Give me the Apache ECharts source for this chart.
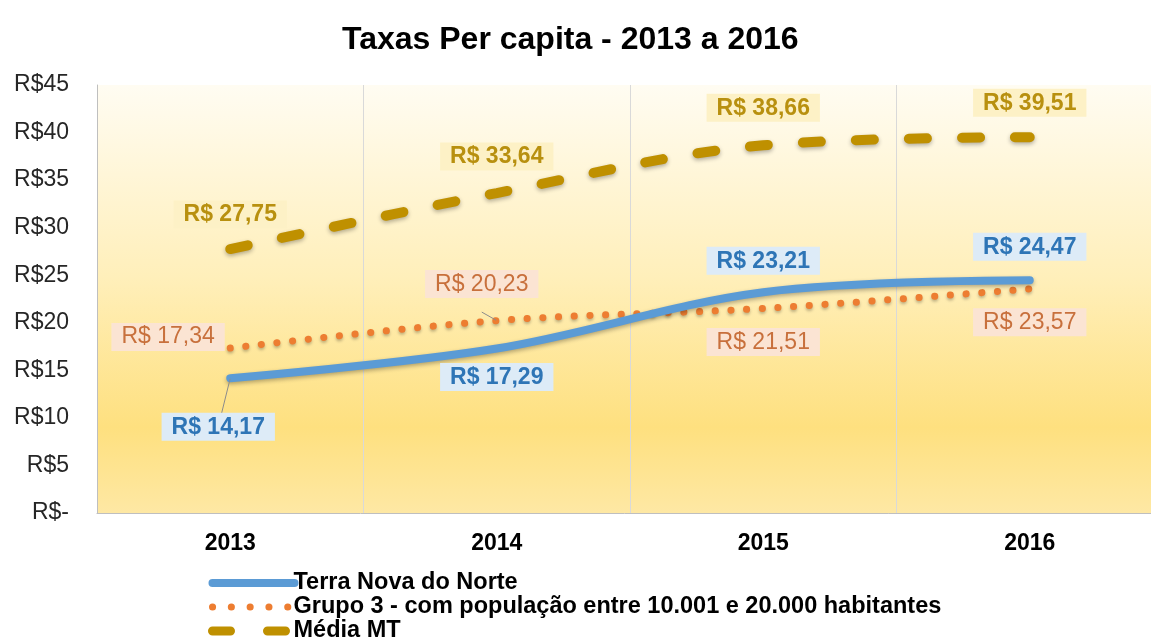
<!DOCTYPE html>
<html>
<head>
<meta charset="utf-8">
<script src="https://cdn.jsdelivr.net/npm/echarts@6/dist/echarts.min.js"></script>
<style>html,body{margin:0;padding:0;background:#fff}#c{width:1151px;height:642px}</style>
</head>
<body>
<div id="c"></div>
<script>
const years = ["2013", "2014", "2015", "2016"];
const terraNova = [14.17, 17.29, 23.21, 24.47];
const grupo3 = [17.34, 20.23, 21.51, 23.57];
const mediaMT = [27.75, 33.64, 38.66, 39.51];
const yTicks = [0, 5, 10, 15, 20, 25, 30, 35, 40, 45];

const fmt = v => "R$ " + v.toFixed(2).replace(".", ",");
const font = "Liberation Sans, Arial, sans-serif";
const names = ["Terra Nova do Norte", "Grupo 3 - com população entre 10.001 e 20.000 habitantes", "Média MT"];

// per-point label placement (style only)
const terraPos = [
  { position: "bottom", distance: 34, offset: [-12, 0], labelLine: true },
  { position: "bottom", distance: 14 },
  { position: "top", distance: 17 },
  { position: "top", distance: 19 }
];
const grupoPos = [
  { position: "left", distance: 5, offset: [0, -11] },
  { position: "top", distance: 22, offset: [-15, 0], labelLine: true },
  { position: "bottom", distance: 19 },
  { position: "bottom", distance: 19 }
];
const mediaPos = [
  { position: "top", distance: 20 },
  { position: "top", distance: 22 },
  { position: "top", distance: 23 },
  { position: "top", distance: 20 }
];

function mkData(vals, pos, lbl) {
  return vals.map((v, i) => ({
    value: v,
    label: Object.assign({}, lbl, { position: pos[i].position, distance: pos[i].distance, offset: pos[i].offset || [0, 0] }),
    labelLine: { show: !!pos[i].labelLine, lineStyle: { color: "#8c8c8c", width: 1 } }
  }));
}

const chart = echarts.init(document.getElementById("c"));
chart.setOption({
  animation: false,
  title: {
    text: "Taxas Per capita - 2013 a 2016", left: 337, top: 19,
    textStyle: { fontFamily: font, fontSize: 32, fontWeight: "bold", color: "#000" }
  },
  grid: {
    left: 97, width: 1066, top: 85, bottom: 129, show: true, borderWidth: 0,
    outerBoundsMode: "none", containLabel: false,
    backgroundColor: new echarts.graphic.LinearGradient(0, 0, 0, 1, [
      { offset: 0, color: "#fffcf2" }, { offset: 0.45, color: "#ffefba" },
      { offset: 0.8, color: "#fee07f" }, { offset: 1, color: "#fee8a4" }
    ])
  },
  legend: {
    orient: "vertical", left: 208, top: 571, height: 120, padding: 0,
    itemWidth: 82, itemHeight: 14, itemGap: 0,
    textStyle: { fontFamily: font, fontSize: 23.5, fontWeight: "bold", color: "#000", lineHeight: 23, padding: [0, 0, 0, -6] },
    data: [
      { name: names[0], itemStyle: { opacity: 0 }, lineStyle: { width: 8, color: "#5b9bd5", type: "solid", cap: "round" } },
      { name: names[1], itemStyle: { opacity: 0 }, lineStyle: { width: 7, color: "#ed7d31", type: [0.1, 18.7], cap: "round" } },
      { name: names[2], itemStyle: { opacity: 0 }, lineStyle: { width: 9, color: "#bf9000", type: [18, 37], cap: "round" } }
    ]
  },
  xAxis: {
    type: "category", data: years,
    axisLine: { lineStyle: { color: "#bfbfbf" } }, axisTick: { show: false },
    axisLabel: { fontFamily: font, fontSize: 23, fontWeight: "bold", color: "#000", margin: 19 },
    splitLine: { show: true, lineStyle: { color: "#d9d9d9" } }
  },
  yAxis: {
    type: "value", min: 0, max: 45, interval: 5,
    axisLine: { show: true, lineStyle: { color: "#bfbfbf" } }, axisTick: { show: false },
    splitLine: { show: false },
    axisLabel: {
      fontFamily: font, fontSize: 23, color: "#262626", margin: 28,
      formatter: v => yTicks.includes(v) ? (v === 0 ? "R$-" : "R$" + v) : ""
    }
  },
  series: [
    {
      name: names[0], type: "line", smooth: 0.35, symbol: "circle", symbolSize: 1, showSymbol: true, z: 3,
      lineStyle: { color: "#5b9bd5", width: 8, cap: "round", shadowColor: "rgba(0,0,0,0.3)", shadowBlur: 4, shadowOffsetY: 2 },
      itemStyle: { color: "#5b9bd5" },
      data: mkData(terraNova, terraPos, {
        show: true, formatter: p => fmt(p.value), fontFamily: font, fontSize: 23, fontWeight: "bold",
        color: "#2e75b6", backgroundColor: "#ddebf7", padding: [3, 10, 2, 10]
      })
    },
    {
      name: names[1], type: "line", smooth: 0.35, symbol: "circle", symbolSize: 1, showSymbol: true, z: 2,
      lineStyle: { color: "#ed7d31", width: 7, type: [0.1, 15.6], cap: "round", shadowColor: "rgba(0,0,0,0.25)", shadowBlur: 3, shadowOffsetY: 2 },
      itemStyle: { color: "#ed7d31" },
      data: mkData(grupo3, grupoPos, {
        show: true, formatter: p => fmt(p.value), fontFamily: font, fontSize: 23,
        color: "#c8703c", backgroundColor: "#fbe4d3", padding: [3, 10, 2, 10]
      })
    },
    {
      name: names[2], type: "line", smooth: 0.35, symbol: "circle", symbolSize: 1, showSymbol: true, z: 2,
      lineStyle: { color: "#bf9000", width: 10, type: [18, 35], cap: "round", shadowColor: "rgba(0,0,0,0.3)", shadowBlur: 4, shadowOffsetY: 2 },
      itemStyle: { color: "#bf9000" },
      data: mkData(mediaMT, mediaPos, {
        show: true, formatter: p => fmt(p.value), fontFamily: font, fontSize: 23, fontWeight: "bold",
        color: "#b8900f", backgroundColor: "#fdf1c6", padding: [3, 10, 2, 10]
      })
    }
  ]
});
window.addEventListener("resize", () => chart.resize());
</script>
</body>
</html>
